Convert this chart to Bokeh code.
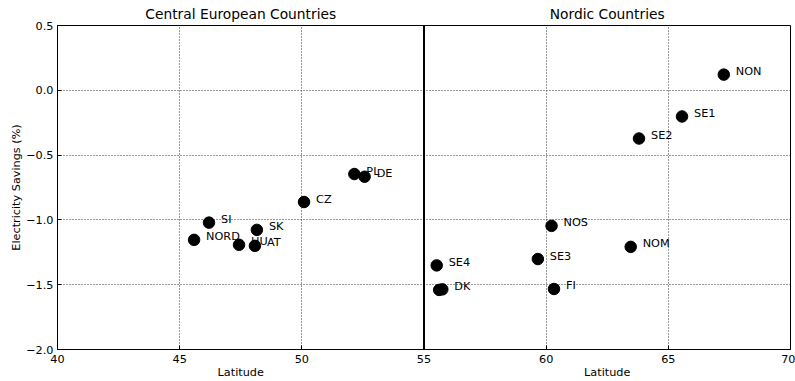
from bokeh.plotting import figure
from bokeh.models import Range1d, FixedTicker, ColumnDataSource, Span, LinearAxis
from bokeh.core.properties import value
from bokeh.embed import file_html
from bokeh.resources import INLINE

# ---- data ----
ce_names = ["NORD", "SI", "HU", "AT", "SK", "CZ", "PL", "DE"]
ce_lat = [45.59, 46.20, 47.43, 48.08, 48.16, 50.09, 52.15, 52.57]
ce_sav = [-1.154, -1.021, -1.192, -1.200, -1.077, -0.862, -0.646, -0.667]

nc_names = ["NON", "SE1", "SE2", "NOS", "NOM", "SE3", "SE4", "", "DK", "FI"]
nc_lat = [67.27, 65.56, 63.80, 60.22, 63.46, 59.66, 55.52, 55.62, 55.75, 60.32]
nc_sav = [0.121, -0.202, -0.372, -1.046, -1.208, -1.302, -1.351, -1.540, -1.536, -1.533]

panel_titles = ["Central European Countries", "Nordic Countries"]
panel_ranges = [(40, 55), (55, 70)]
x_label = "Latitude"
y_label = "Electricity Savings (%)"
x_ticks = [40, 45, 50, 55, 60, 65, 70]
y_ticks = [0.5, 0.0, -0.5, -1.0, -1.5, -2.0]
y_tick_labels = {t: ("%.1f" % t).replace("-", "\u2212") for t in y_ticks}

panel_mids = [(a + b) / 2 for a, b in panel_ranges]
title_labels = dict(zip(panel_mids, panel_titles))
xlabel_labels = {m: x_label for m in panel_mids}

FONT = "DejaVu Sans"
FS = "11.25px"

p = figure(
    width=795,
    height=381,
    x_range=Range1d(panel_ranges[0][0], panel_ranges[1][1]),
    y_range=Range1d(y_ticks[-1], y_ticks[0]),
    output_backend="svg",
    toolbar_location=None,
    min_border_left=57,
    min_border_right=5,
    min_border_top=25,
    min_border_bottom=32,
    background_fill_color="white",
    border_fill_color="white",
)
p.outline_line_color = "black"
p.outline_line_width = 1

# panel titles (one per panel) on a top axis
top_axis = LinearAxis(ticker=FixedTicker(ticks=panel_mids),
                      major_label_overrides=title_labels)
p.add_layout(top_axis, "above")
# per-panel x-axis labels on a second bottom axis
lab_axis = LinearAxis(ticker=FixedTicker(ticks=panel_mids),
                      major_label_overrides=xlabel_labels)
p.add_layout(lab_axis, "below")

for ax in p.axis:
    ax.major_tick_in = 4
    ax.major_tick_out = 0
    ax.minor_tick_line_color = None
    ax.axis_line_color = "black"
    ax.major_tick_line_color = "black"
    ax.major_label_text_font = FONT
    ax.major_label_text_font_size = FS
    ax.major_label_text_color = "black"
    ax.axis_label_text_font = FONT
    ax.axis_label_text_font_size = FS
    ax.axis_label_text_font_style = "normal"
    ax.axis_label_text_color = "black"

for ax in (top_axis, lab_axis):
    ax.axis_line_color = None
    ax.major_tick_line_color = None
    ax.major_tick_in = 0
top_axis.major_label_text_font_size = "13.8px"
top_axis.major_label_standoff = 4
lab_axis.major_label_standoff = 0

p.below[0].ticker = FixedTicker(ticks=x_ticks)
p.below[0].major_label_standoff = 5
p.left[0].ticker = FixedTicker(ticks=y_ticks)
p.left[0].major_label_overrides = y_tick_labels
p.left[0].axis_label = y_label
p.left[0].major_label_standoff = 4
p.left[0].axis_label_standoff = 0

p.xgrid.ticker = FixedTicker(ticks=x_ticks)
p.ygrid.ticker = FixedTicker(ticks=y_ticks)
for g in (p.xgrid, p.ygrid):
    g.grid_line_color = "black"
    g.grid_line_alpha = 0.8
    g.grid_line_dash = "1 2"
    g.grid_line_width = 1

# panel separator (two touching spines)
p.add_layout(Span(location=panel_ranges[0][1], dimension="height",
                  line_color="black", line_width=2))

for names, lat, sav in ((ce_names, ce_lat, ce_sav), (nc_names, nc_lat, nc_sav)):
    src = ColumnDataSource(dict(x=lat, y=sav, name=names))
    p.scatter("x", "y", source=src, size=11.5, fill_color="black", line_color="black")
    p.text("x", "y", text="name", source=src, x_offset=12, y_offset=-3,
           text_baseline="middle", text_align="left",
           text_font_size=FS, text_color="black", text_font=value(FONT))

open("out.html", "w").write(file_html(p, INLINE))
